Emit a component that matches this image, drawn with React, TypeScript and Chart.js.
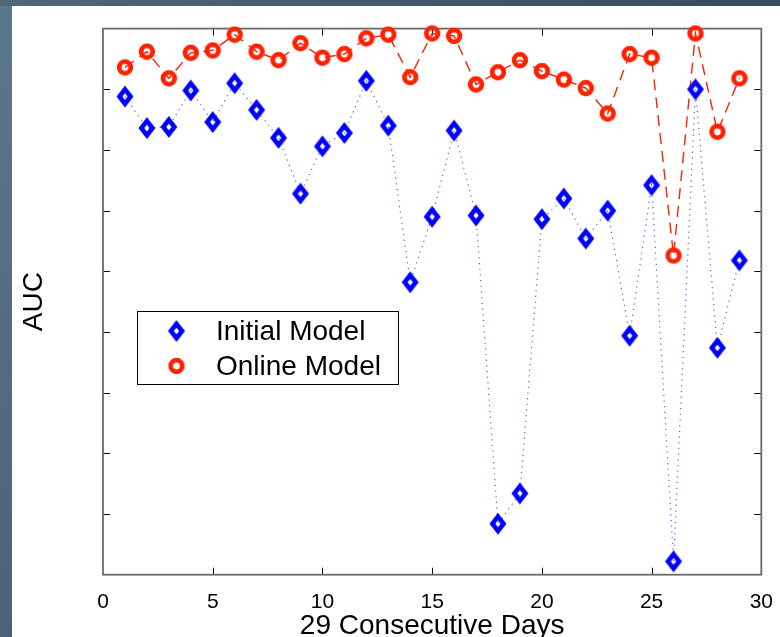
import React, { useEffect, useRef } from "react";
import { Chart, registerables } from "chart.js";

Chart.register(...registerables);

// Daily AUC for the two models
const days = [1, 2, 3, 4, 5, 6, 7, 8, 9, 10, 11, 12, 13, 14, 15, 16, 17, 18, 19, 20, 21, 22, 23, 24, 25, 26, 27, 28, 29];
const initialModel = [
  0.944, 0.918, 0.919, 0.949, 0.923, 0.955, 0.933, 0.910, 0.864, 0.903,
  0.914, 0.957, 0.920, 0.791, 0.845, 0.916, 0.846, 0.592, 0.617, 0.843,
  0.860, 0.827, 0.850, 0.747, 0.871, 0.561, 0.950, 0.737, 0.809,
];
const onlineModel = [
  0.968, 0.981, 0.959, 0.980, 0.982, 0.995, 0.981, 0.974, 0.988, 0.976,
  0.979, 0.992, 0.995, 0.960, 0.996, 0.994, 0.954, 0.964, 0.974, 0.965,
  0.958, 0.951, 0.930, 0.979, 0.976, 0.813, 0.996, 0.915, 0.959,
];
const xTickValues = [0, 5, 10, 15, 20, 25, 30];
const aucMin = 0.55;
const aucMax = 1.0;
const aucStep = 0.05;

const seriesNames = ["Initial Model", "Online Model"];

const FONT = '"Liberation Sans", Arial, Helvetica, sans-serif';
const BLUE = "#0000ff";
const RED = "#ff2000";

function makeDiamond(): HTMLCanvasElement {
  const c = document.createElement("canvas");
  c.width = 22;
  c.height = 26;
  const g = c.getContext("2d")!;
  g.strokeStyle = BLUE;
  g.lineWidth = 4.6;
  g.lineJoin = "miter";
  const cx = 11;
  const cy = 13;
  g.beginPath();
  g.moveTo(cx, cy - 7.2);
  g.lineTo(cx + 5.6, cy);
  g.lineTo(cx, cy + 7.2);
  g.lineTo(cx - 5.6, cy);
  g.closePath();
  g.stroke();
  return c;
}

function makeRing(): HTMLCanvasElement {
  const c = document.createElement("canvas");
  c.width = 20;
  c.height = 20;
  const g = c.getContext("2d")!;
  g.strokeStyle = RED;
  g.lineWidth = 4.8;
  g.beginPath();
  g.arc(10, 10, 5.8, 0, Math.PI * 2);
  g.stroke();
  return c;
}

// Slide backdrop with the white panel
const backdropPlugin = {
  id: "backdrop",
  beforeDraw(chart: any) {
    const { ctx, width, height } = chart;
    ctx.save();
    const grad = ctx.createLinearGradient(0, 0, width, height);
    grad.addColorStop(0, "#4f6779");
    grad.addColorStop(0.5, "#3d4f66");
    grad.addColorStop(1, "#2b3850");
    ctx.fillStyle = grad;
    ctx.fillRect(0, 0, width, height);
    const side = ctx.createLinearGradient(0, 0, 0, height);
    side.addColorStop(0, "#5b7888");
    side.addColorStop(1, "#4b6375");
    ctx.fillStyle = side;
    ctx.fillRect(0, 6, 12, height - 6);
    ctx.fillStyle = "#ffffff";
    ctx.fillRect(12, 6, width - 12, height - 6);
    ctx.restore();
  },
};

// Boxed axes with inward tick marks on all four sides
const framePlugin = {
  id: "frame",
  beforeDatasetsDraw(chart: any) {
    const { ctx, chartArea } = chart;
    const { left, right, top, bottom } = chartArea;
    const xs = chart.scales.x;
    const ys = chart.scales.y;
    const tl = 7;
    ctx.save();
    ctx.strokeStyle = "#111";
    ctx.lineWidth = 1;
    ctx.beginPath();
    xs.ticks.forEach((t: any) => {
      if (t.value <= xs.min || t.value >= xs.max) return;
      const px = Math.round(xs.getPixelForValue(t.value)) + 0.5;
      ctx.moveTo(px, bottom);
      ctx.lineTo(px, bottom - tl);
      ctx.moveTo(px, top);
      ctx.lineTo(px, top + tl);
    });
    ys.ticks.forEach((t: any) => {
      if (t.value <= ys.min + 1e-9 || t.value >= ys.max - 1e-9) return;
      const py = Math.round(ys.getPixelForValue(t.value)) + 0.5;
      ctx.moveTo(left, py);
      ctx.lineTo(left + tl, py);
      ctx.moveTo(right, py);
      ctx.lineTo(right - tl, py);
    });
    ctx.stroke();
    ctx.strokeStyle = "#6b6b6b";
    ctx.lineWidth = 1.8;
    ctx.strokeRect(left, top, right - left, bottom - top);
    ctx.restore();
  },
};

function makeLegendPlugin(markers: HTMLCanvasElement[]) {
  return {
    id: "boxLegend",
    afterDraw(chart: any) {
      const { ctx } = chart;
      const bx = 137.5;
      const by = 311.5;
      const bw = 261;
      const bh = 73;
      ctx.save();
      ctx.fillStyle = "#ffffff";
      ctx.fillRect(bx, by, bw, bh);
      ctx.strokeStyle = "#000";
      ctx.lineWidth = 1;
      ctx.strokeRect(bx, by, bw, bh);
      ctx.font = `28px ${FONT}`;
      ctx.fillStyle = "#000";
      ctx.textBaseline = "middle";
      ctx.textAlign = "left";
      const rows = [331, 366];
      seriesNames.forEach((name, i) => {
        const m = markers[i];
        ctx.drawImage(m, 176.5 - m.width / 2, rows[i] - m.height / 2);
        ctx.fillText(name, 216, rows[i] + 1);
      });
      ctx.restore();
    },
  };
}

export default function App() {
  const canvasRef = useRef<HTMLCanvasElement | null>(null);

  useEffect(() => {
    const canvas = canvasRef.current;
    if (!canvas) return;
    const diamond = makeDiamond();
    const ring = makeRing();

    const chart = new Chart(canvas, {
      type: "line",
      data: {
        datasets: [
          {
            label: seriesNames[0],
            data: days.map((d, i) => ({ x: d, y: initialModel[i] })),
            borderColor: "rgba(40, 40, 255, 0.75)",
            borderWidth: 1.2,
            borderDash: [1.2, 4.5],
            pointStyle: diamond,
            pointRadius: 8,
            tension: 0,
            clip: false,
            fill: false,
          },
          {
            label: seriesNames[1],
            data: days.map((d, i) => ({ x: d, y: onlineModel[i] })),
            borderColor: RED,
            borderWidth: 1.4,
            borderDash: [11, 7],
            pointStyle: ring,
            pointRadius: 8,
            tension: 0,
            clip: false,
            fill: false,
          },
        ],
      },
      options: {
        animation: false,
        responsive: false,
        events: [],
        layout: { padding: { left: 0, top: 28.6, right: 18, bottom: 0 } },
        plugins: {
          legend: { display: false },
          tooltip: { enabled: false },
        },
        scales: {
          x: {
            type: "linear",
            min: 0,
            max: 30,
            afterBuildTicks: (s: any) => {
              s.ticks = xTickValues.map((v) => ({ value: v }));
            },
            afterFit: (s: any) => {
              s.height = 62.3;
            },
            ticks: {
              color: "#000",
              font: { family: FONT, size: 21 },
              padding: 7,
              maxRotation: 0,
              autoSkip: false,
            },
            grid: { display: false },
            border: { display: false },
            title: {
              display: true,
              text: "29 Consecutive Days",
              color: "#000",
              font: { family: FONT, size: 28, lineHeight: 0.8 },
              padding: { top: 0, bottom: 0 },
            },
          },
          y: {
            type: "linear",
            min: aucMin,
            max: aucMax,
            afterFit: (s: any) => {
              s.width = 103;
            },
            ticks: { display: false, stepSize: aucStep },
            grid: { display: false },
            border: { display: false },
            title: {
              display: true,
              text: "AUC",
              color: "#000",
              font: { family: FONT, size: 28, lineHeight: 1.2 },
              padding: { top: 17, bottom: 0 },
            },
          },
        },
      },
      plugins: [backdropPlugin, framePlugin, makeLegendPlugin([diamond, ring])],
    } as any);

    return () => chart.destroy();
  }, []);

  return (
    <div style={{ position: "fixed", left: 0, top: 0, width: 780, height: 637 }}>
      <canvas ref={canvasRef} width={780} height={637} style={{ display: "block", width: 780, height: 637 }} />
    </div>
  );
}
